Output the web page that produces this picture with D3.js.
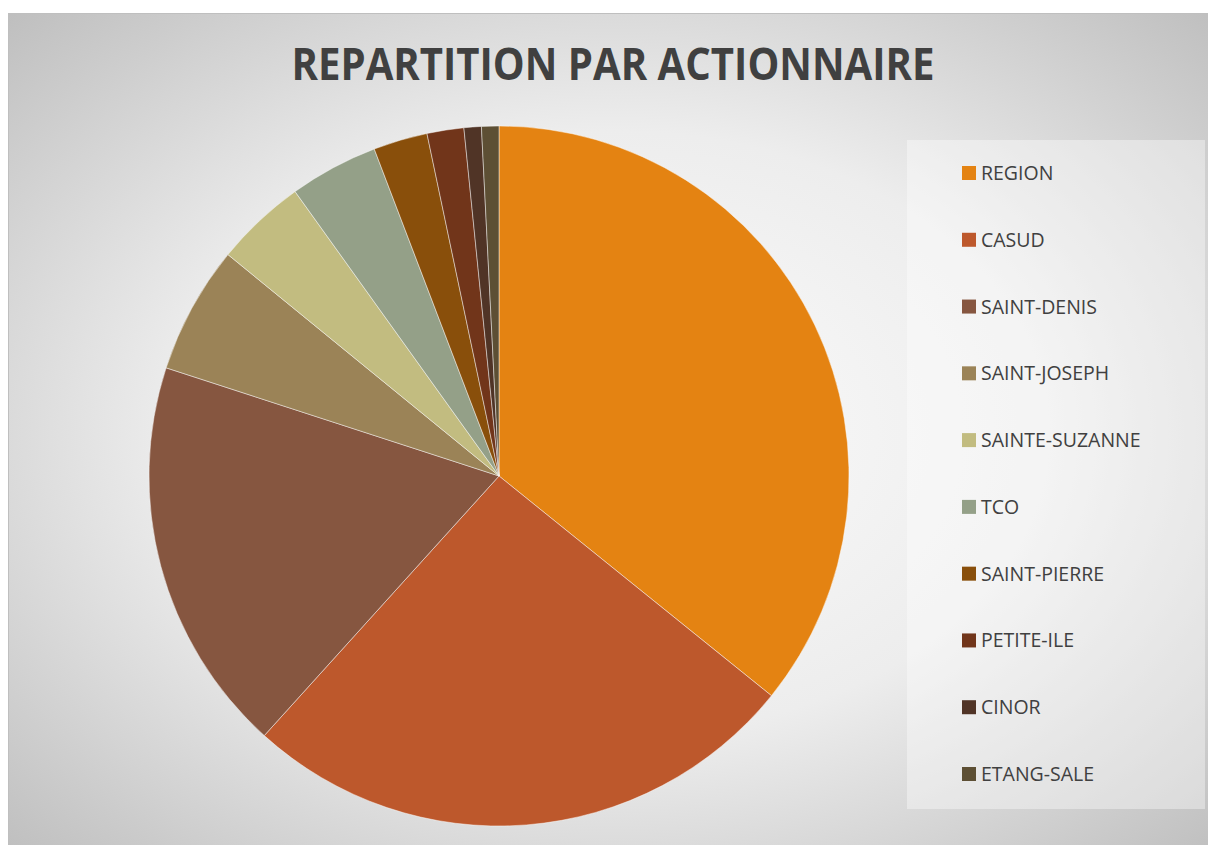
<!DOCTYPE html>
<html>
<head>
<meta charset="utf-8">
<script src="https://cdn.jsdelivr.net/npm/d3@7"></script>
<style>
  html, body { margin: 0; padding: 0; background: #fff; }
  svg { display: block; }
</style>
</head>
<body>
<div id="chart"></div>
<script>
// pie chart - repartition par actionnaire

// =============================================================================
// DATA
// =============================================================================

const categories = ["REGION", "CASUD", "SAINT-DENIS", "SAINT-JOSEPH", "SAINTE-SUZANNE",
                    "TCO", "SAINT-PIERRE", "PETITE-ILE", "CINOR", "ETANG-SALE"];
const shares     = [35.8, 25.9, 18.3, 5.9, 4.2, 4.1, 2.5, 1.7, 0.8, 0.8];
const colors     = ["#E48312", "#BD582C", "#865640", "#9B8357", "#C2BC80",
                    "#94A088", "#894F0B", "#71351A", "#503426", "#5D4F34"];
const title      = "REPARTITION PAR ACTIONNAIRE";

// =============================================================================
// SETUP
// =============================================================================

const W = 1208, H = 845;
const svg = d3.select("#chart").append("svg")
  .attr("width", W)
  .attr("height", H);

const defs = svg.append("defs");

const bg = defs.append("radialGradient")
  .attr("id", "bg")
  .attr("cx", "50%").attr("cy", "50%").attr("r", "72%");
bg.append("stop").attr("offset", "0%").attr("stop-color", "#fcfcfc");
bg.append("stop").attr("offset", "50%").attr("stop-color", "#ededed");
bg.append("stop").attr("offset", "100%").attr("stop-color", "#bdbdbd");

// chart area
svg.append("rect")
  .attr("x", 8.5).attr("y", 13.5)
  .attr("width", 1210).attr("height", 840)
  .attr("fill", "url(#bg)")
  .attr("stroke", "#bfbfbf")
  .attr("stroke-width", 1);

// --- title ---
svg.append("text")
  .attr("x", 613)
  .attr("y", 80)
  .attr("text-anchor", "middle")
  .attr("textLength", 643)
  .attr("lengthAdjust", "spacingAndGlyphs")
  .style("font-family", "'Open Sans', 'DejaVu Sans', sans-serif")
  .style("font-weight", "bold")
  .style("font-size", "45px")
  .style("fill", "#404040")
  .text(title);

// =============================================================================
// PIE
// =============================================================================

const cx = 499, cy = 476, radius = 350;

const pie = d3.pie().sort(null).value(d => d)
  .startAngle(0).endAngle(2 * Math.PI);
const arc = d3.arc().innerRadius(0).outerRadius(radius);
const color = d3.scaleOrdinal().domain(categories).range(colors);

const g = svg.append("g").attr("transform", `translate(${cx},${cy})`);

g.selectAll("path")
  .data(pie(shares))
  .enter()
  .append("path")
  .attr("d", arc)
  .attr("fill", (d, i) => color(categories[i]))
  .attr("stroke", "rgba(255,255,255,0.45)")
  .attr("stroke-width", 1);

// =============================================================================
// LEGEND
// =============================================================================

svg.append("rect")
  .attr("x", 907).attr("y", 140)
  .attr("width", 298).attr("height", 669)
  .attr("fill", "#ffffff")
  .attr("opacity", 0.38);

const legendY = d3.scalePoint()
  .domain(categories)
  .range([173, 774]);

const items = svg.selectAll(".legend-item")
  .data(categories)
  .enter()
  .append("g")
  .attr("class", "legend-item")
  .attr("transform", d => `translate(962,${legendY(d)})`);

items.append("rect")
  .attr("x", 0).attr("y", -7)
  .attr("width", 14).attr("height", 14)
  .attr("fill", d => color(d));

items.append("text")
  .attr("x", 19)
  .attr("y", 0)
  .attr("dy", "0.36em")
  .style("font-family", "'Open Sans', 'DejaVu Sans', sans-serif")
  .style("font-size", "19.5px")
  .style("fill", "#404040")
  .text(d => d);
</script>
</body>
</html>
